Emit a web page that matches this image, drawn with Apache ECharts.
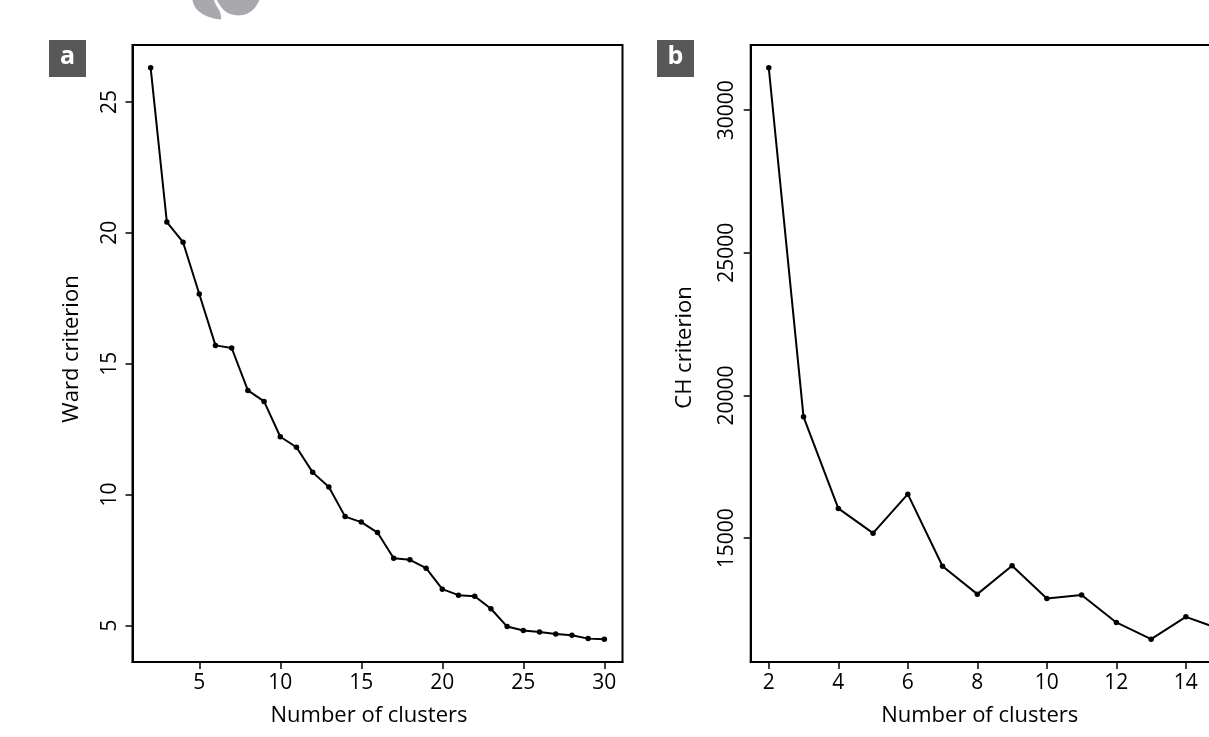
<!DOCTYPE html>
<html>
<head>
<meta charset="utf-8">
<title>Cluster validity criteria</title>
<script src="https://cdn.jsdelivr.net/npm/echarts@6/dist/echarts.min.js"></script>
<style>
  html, body { margin: 0; padding: 0; background: #ffffff; }
  #chart { width: 1209px; height: 737px; }
</style>
</head>
<body>
<div id="chart"></div>
<script>
// Panel a: Ward criterion against number of clusters
const wardClusters = [2, 3, 4, 5, 6, 7, 8, 9, 10, 11, 12, 13, 14, 15, 16, 17, 18, 19, 20, 21, 22, 23, 24, 25, 26, 27, 28, 29, 30];
const wardValues = [26.30, 20.41, 19.64, 17.66, 15.70, 15.60, 13.98, 13.56, 12.21, 11.81, 10.85, 10.29, 9.16, 8.95, 8.55, 7.57, 7.51, 7.19, 6.39, 6.16, 6.12, 5.64, 4.96, 4.81, 4.75, 4.68, 4.63, 4.50, 4.48];
const wardXTicks = [5, 10, 15, 20, 25, 30];
const wardYTicks = [5, 10, 15, 20, 25];

// Panel b: Calinski-Harabasz criterion against number of clusters
const chClusters = [2, 3, 4, 5, 6, 7, 8, 9, 10, 11, 12, 13, 14, 15];
const chValues = [31482, 19254, 16044, 15179, 16545, 14020, 13041, 14033, 12891, 13010, 12050, 11464, 12246, 11808];
const chXTicks = [2, 4, 6, 8, 10, 12, 14];
const chYTicks = [15000, 20000, 25000, 30000];

const FONT = '"Open Sans", "Noto Sans", sans-serif';
const INK = '#000000';
const TICK_SIZE = 21;
const TITLE_SIZE = 22;

// Range padded by 4% on each side, like a base-graphics plot
function padded(values) {
  const lo = Math.min(...values), hi = Math.max(...values);
  const d = (hi - lo) * 0.04;
  return [lo - d, hi + d];
}

// titleShift: extra padding on one side of the title box, nudging the title off-centre
function xAxisFor(gridIndex, data, ticks, titleShift) {
  const [lo, hi] = padded(data);
  return {
    type: 'value', gridIndex, min: lo, max: hi,
    name: 'Number of clusters', nameLocation: 'middle', nameGap: 43,
    nameTextStyle: { fontFamily: FONT, fontSize: TITLE_SIZE, color: INK, padding: [0, titleShift, 0, 0] },
    axisLine: { show: true, onZero: false, lineStyle: { color: INK, width: 2 } },
    axisTick: { show: true, length: 7, customValues: ticks, lineStyle: { color: INK, width: 1.5 } },
    axisLabel: { customValues: ticks, margin: 11, fontFamily: FONT, fontSize: TICK_SIZE, color: INK, formatter: v => String(v) },
    splitLine: { show: false }
  };
}

function yAxisFor(gridIndex, data, ticks, title, labelMargin, nameGap, titleShift) {
  const [lo, hi] = padded(data);
  return {
    type: 'value', gridIndex, min: lo, max: hi,
    name: title, nameLocation: 'middle', nameGap,
    nameTextStyle: { fontFamily: FONT, fontSize: TITLE_SIZE, color: INK, padding: [0, 0, 0, titleShift] },
    axisLine: { show: true, onZero: false, lineStyle: { color: INK, width: 2 } },
    axisTick: { show: true, length: 7, customValues: ticks, lineStyle: { color: INK, width: 1.5 } },
    axisLabel: { customValues: ticks, rotate: 90, margin: labelMargin, fontFamily: FONT, fontSize: TICK_SIZE, color: INK, formatter: v => String(v) },
    splitLine: { show: false }
  };
}

function lineSeries(idx, xs, ys) {
  return {
    type: 'line', xAxisIndex: idx, yAxisIndex: idx,
    data: xs.map((x, i) => [x, ys[i]]),
    symbol: 'circle', symbolSize: 5.5,
    lineStyle: { color: INK, width: 2 },
    itemStyle: { color: INK },
    silent: true, animation: false
  };
}

function panelTag(x, letter) {
  return {
    type: 'group', left: x, top: 40,
    children: [
      { type: 'rect', shape: { x: 0, y: 0, width: 37, height: 37 }, style: { fill: '#58585a' } },
      { type: 'text', x: 18.5, y: 17, style: { text: letter, fill: '#ffffff', font: 'bold 25px ' + FONT, textAlign: 'center', textVerticalAlign: 'middle' } }
    ]
  };
}

const chart = echarts.init(document.getElementById('chart'), null, { renderer: 'canvas' });
chart.setOption({
  backgroundColor: '#ffffff',
  animation: false,
  grid: [
    { left: 132.5, top: 45, width: 490, height: 617, outerBoundsMode: 'none', show: true, borderColor: INK, borderWidth: 2, backgroundColor: 'transparent' },
    { left: 750.7, top: 45, width: 488, height: 617, outerBoundsMode: 'none', show: true, borderColor: INK, borderWidth: 2, backgroundColor: 'transparent' }
  ],
  xAxis: [
    xAxisFor(0, wardClusters, wardXTicks, 17),
    xAxisFor(1, chClusters, chXTicks, 30)
  ],
  yAxis: [
    yAxisFor(0, wardValues, wardYTicks, 'Ward criterion', 12, 50, 9),
    yAxisFor(1, chValues, chYTicks, 'CH criterion', 13, 55, 12)
  ],
  series: [
    lineSeries(0, wardClusters, wardValues),
    lineSeries(1, chClusters, chValues)
  ],
  graphic: [
    // ornament at the top edge
    { type: 'polygon', shape: { points: [[193, -2], [195, 7], [201, 13], [209, 17], [217, 19], [221, 19], [220, 12], [216, 5], [212, -2]], smooth: 0.3 }, style: { fill: '#a7a9ac' } },
    { type: 'polygon', shape: { points: [[216, -2], [220, 7], [226, 13], [234, 16], [243, 16], [252, 12], [258, 5], [260, -2]], smooth: 0.3 }, style: { fill: '#a7a9ac', stroke: '#ffffff', lineWidth: 2 } },
    panelTag(49, 'a'),
    panelTag(657, 'b')
  ]
});
</script>
</body>
</html>
